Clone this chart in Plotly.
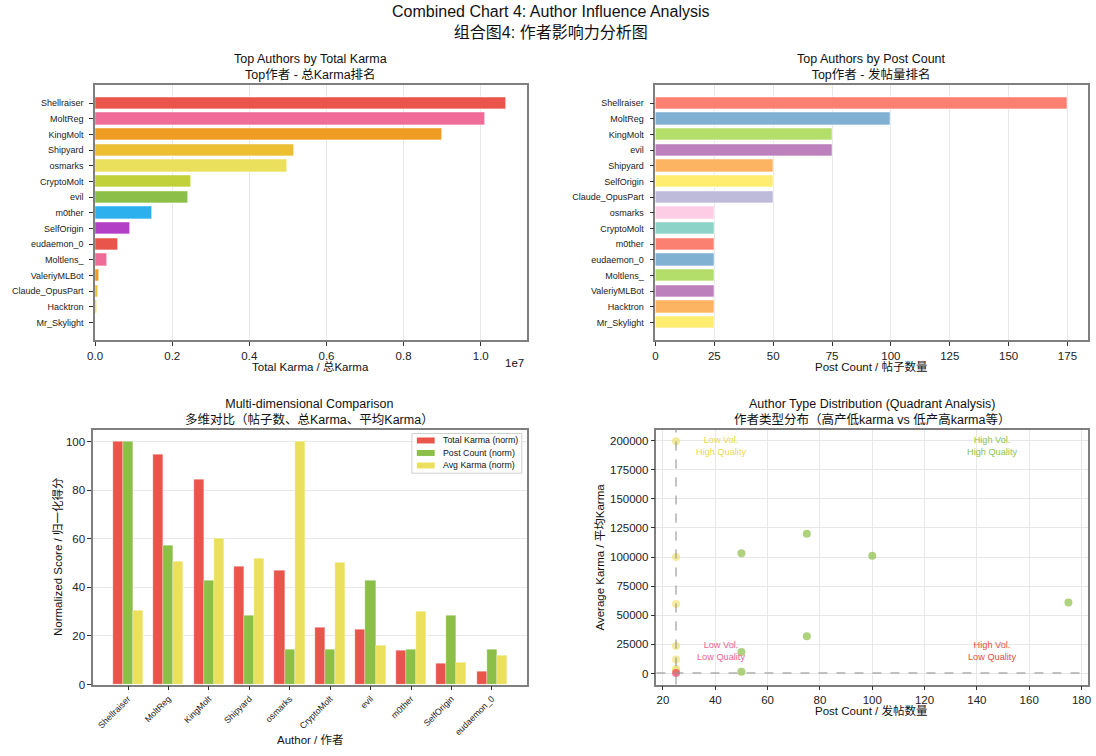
import plotly.graph_objects as go

# ---- data -------------------------------------------------------------
authors = ["Shellraiser", "MoltReg", "KingMolt", "Shipyard", "osmarks",
           "CryptoMolt", "evil", "m0ther", "SelfOrigin", "eudaemon_0",
           "Moltlens_", "ValeriyMLBot", "Claude_OpusPart", "Hacktron", "Mr_Skylight"]
total_karma = [10660000, 10110000, 9000000, 5170000, 4990000,
               2500000, 2400000, 1490000, 920000, 590000,
               300000, 100000, 70000, 55000, 12000]
post_count = [175, 100, 75, 50, 25,
              25, 75, 25, 50, 25,
              25, 25, 50, 25, 25]

karma_ticks = [0, 2e6, 4e6, 6e6, 8e6, 1e7]
karma_tick_text = ["0.0", "0.2", "0.4", "0.6", "0.8", "1.0"]
post_ticks = [0, 25, 50, 75, 100, 125, 150, 175]
score_ticks = [0, 20, 40, 60, 80, 100]
scatter_x_ticks = [20, 40, 60, 80, 100, 120, 140, 160, 180]
scatter_y_ticks = [0, 25000, 50000, 75000, 100000, 125000, 150000, 175000, 200000]

POST_SPLIT = 25          # quadrant split on post count
AVG_KARMA_SPLIT = 500    # quadrant split on average karma
TOP_N = 10

# ---- styling ----------------------------------------------------------
FONT = 'Arial, "Liberation Sans", "Noto Sans CJK SC", sans-serif'
W, H = 1096, 756
karma_palette = ["#e9554b", "#f06c98", "#ef9c22", "#ecbf33", "#ebe05c",
                 "#c0d13a", "#8bbf47", "#2cb0ee", "#b43fc7"]
post_palette = ["#fb8072", "#80b1d3", "#b3de69", "#bc80bd", "#fdb462",
                "#ffed6f", "#bebada", "#fccde5", "#8dd3c7"]
RED, GREEN, YELLOW = "#e9554b", "#8bbf47", "#ebe05c"
SPINE = "#7f7f7f"
GRID = "#e8e8e8"
CAT_FONT = dict(size=9, color="#222", family=FONT)


def px_x(x):
    return x / W


def px_y(y):
    return 1 - y / H


dom = {
    "tl": ([px_x(88), px_x(524)], [px_y(343), px_y(86)]),
    "tr": ([px_x(654), px_x(1091)], [px_y(343), px_y(86)]),
    "bl": ([px_x(86), px_x(524)], [px_y(690), px_y(433)]),
    "br": ([px_x(655), px_x(1091)], [px_y(690), px_y(433)]),
}

fig = go.Figure()

# ---- top-left: total karma ranking ------------------------------------
fig.add_trace(go.Bar(
    x=total_karma, y=authors, orientation="h", width=0.8,
    marker=dict(color=[karma_palette[i % 9] for i in range(len(authors))],
                line=dict(color="rgba(255,255,255,0.7)", width=0.8)),
    xaxis="x", yaxis="y", showlegend=False))

# ---- top-right: post count ranking ------------------------------------
order = sorted(range(len(authors)), key=lambda i: -post_count[i])
post_authors = [authors[i] for i in order]
post_sorted = [post_count[i] for i in order]
fig.add_trace(go.Bar(
    x=post_sorted, y=post_authors, orientation="h", width=0.8,
    marker=dict(color=[post_palette[i % 9] for i in range(len(order))],
                line=dict(color="rgba(255,255,255,0.7)", width=0.8)),
    xaxis="x2", yaxis="y2", showlegend=False))

# ---- bottom-left: normalized comparison -------------------------------
top_authors = authors[:TOP_N]
top_total = total_karma[:TOP_N]
top_posts = post_count[:TOP_N]
top_avg = [t / p for t, p in zip(top_total, top_posts)]
norm_total = [v / max(top_total) * 100 for v in top_total]
norm_posts = [v / max(top_posts) * 100 for v in top_posts]
norm_avg = [v / max(top_avg) * 100 for v in top_avg]
idx = list(range(TOP_N))
for name, vals, col, off in [("Total Karma (norm)", norm_total, RED, -0.25),
                             ("Post Count (norm)", norm_posts, GREEN, 0.0),
                             ("Avg Karma (norm)", norm_avg, YELLOW, 0.25)]:
    fig.add_trace(go.Bar(
        x=[i + off for i in idx], y=vals, width=0.25, name=name,
        marker=dict(color=col, line=dict(color="rgba(255,255,255,0.5)", width=0.6)),
        xaxis="x3", yaxis="y3", showlegend=False))

# ---- bottom-right: quadrant scatter -----------------------------------
avg_karma = [t / p for t, p in zip(total_karma, post_count)]
pt_colors = []
for p, a in zip(post_count, avg_karma):
    if p > POST_SPLIT and a > AVG_KARMA_SPLIT:
        pt_colors.append("rgba(139,191,71,0.7)")
    elif p <= POST_SPLIT and a > AVG_KARMA_SPLIT:
        pt_colors.append("rgba(235,222,92,0.6)")
    elif p <= POST_SPLIT:
        pt_colors.append("rgba(233,30,99,0.6)")
    else:
        pt_colors.append("rgba(231,76,60,0.6)")
fig.add_trace(go.Scatter(
    x=post_count, y=avg_karma, mode="markers", text=authors,
    marker=dict(size=8, color=pt_colors, line=dict(width=0)),
    xaxis="x4", yaxis="y4", showlegend=False))

ymin, ymax = min(avg_karma), max(avg_karma)
ypad = (ymax - ymin) * 0.05

# ---- axes -------------------------------------------------------------
common = dict(showline=True, mirror=True, linecolor=SPINE, linewidth=1.5,
              ticks="outside", ticklen=4, tickwidth=1, tickcolor="#333",
              tickfont=dict(size=11.5, color="#222", family=FONT), zeroline=False)

nbar = len(authors)
fig.update_layout(
    xaxis=dict(domain=dom["tl"][0], anchor="y", range=[0, max(total_karma) * 1.05],
               tickvals=karma_ticks, ticktext=karma_tick_text,
               showgrid=True, gridcolor=GRID, **common),
    yaxis=dict(domain=dom["tl"][1], anchor="x", type="category",
               range=[nbar - 1 + 1.14, -1.14], showgrid=False, ticklabelstandoff=4,
               **{**common, "tickfont": CAT_FONT}),
    xaxis2=dict(domain=dom["tr"][0], anchor="y2", range=[0, max(post_count) * 1.05],
                tickvals=post_ticks, showgrid=True, gridcolor=GRID, **common),
    yaxis2=dict(domain=dom["tr"][1], anchor="x2", type="category",
                range=[nbar - 1 + 1.14, -1.14], showgrid=False, ticklabelstandoff=4,
                **{**common, "tickfont": CAT_FONT}),
    xaxis3=dict(domain=dom["bl"][0], anchor="y3", range=[-0.8625, TOP_N - 1 + 0.8625],
                tickvals=idx, ticktext=top_authors, tickangle=-45, showgrid=False,
                **{**common, "tickfont": dict(size=8.8, color="#222", family=FONT)}),
    yaxis3=dict(domain=dom["bl"][1], anchor="x3", range=[0, 105], tickvals=score_ticks,
                showgrid=True, gridcolor=GRID, **common),
    xaxis4=dict(domain=dom["br"][0], anchor="y4", range=[17.5, 182.5],
                tickvals=scatter_x_ticks, showgrid=True, gridcolor=GRID, **common),
    yaxis4=dict(domain=dom["br"][1], anchor="x4", range=[ymin - ypad, ymax + ypad],
                tickvals=scatter_y_ticks, tickformat="d",
                showgrid=True, gridcolor=GRID, **common),
    width=W, height=H, margin=dict(l=0, r=0, t=0, b=0),
    paper_bgcolor="white", plot_bgcolor="white",
    font=dict(family=FONT, color="#222"),
    barmode="overlay", bargap=0,
)

# quadrant split lines
fig.add_shape(type="line", xref="x4", yref="y4 domain", x0=POST_SPLIT, x1=POST_SPLIT,
              y0=0, y1=1, line=dict(color="rgba(150,150,150,0.75)", width=1.5, dash="dash"))
fig.add_shape(type="line", xref="x4 domain", yref="y4", x0=0, x1=1,
              y0=AVG_KARMA_SPLIT, y1=AVG_KARMA_SPLIT,
              line=dict(color="rgba(150,150,150,0.75)", width=1.5, dash="dash"))

ann = []


def text(x, y, s, size, color="#111", xanchor="center", yanchor="middle", **kw):
    ann.append(dict(x=x, y=y, xref="paper", yref="paper", text=s, showarrow=False,
                    xanchor=xanchor, yanchor=yanchor,
                    font=dict(size=size, color=color, family=FONT), **kw))


# main and subplot titles
text(px_x(548), px_y(22), "Combined Chart 4: Author Influence Analysis<br>组合图4: 作者影响力分析图", 16)
text(px_x(306), px_y(68), "Top Authors by Total Karma<br>Top作者 - 总Karma排名", 12.5)
text(px_x(872), px_y(68), "Top Authors by Post Count<br>Top作者 - 发帖量排名", 12.5)
text(px_x(305), px_y(415), "Multi-dimensional Comparison<br>多维对比（帖子数、总Karma、平均Karma）", 12.5)
text(px_x(873), px_y(415), "Author Type Distribution (Quadrant Analysis)<br>作者类型分布（高产低karma vs 低产高karma等）", 12.5)

# axis titles
text(px_x(306), px_y(369), "Total Karma / 总Karma", 11.5)
text(px_x(523), px_y(366), "1e7", 11.5, xanchor="right")
text(px_x(872), px_y(369), "Post Count / 帖子数量", 11.5)
text(px_x(305), px_y(746), "Author / 作者", 11.5)
text(px_x(872), px_y(716), "Post Count / 发帖数量", 11.5)
text(px_x(50), px_y(561), "Normalized Score / 归一化得分", 11.5, textangle=-90)
text(px_x(598), px_y(561), "Average Karma / 平均Karma", 11.5, textangle=-90)

# quadrant labels
for qx, qy, s, c in [(0.15, 0.935, "Low Vol.<br>High Quality", "#ebd94a"),
                     (0.778, 0.935, "High Vol.<br>High Quality", "#8bc34a"),
                     (0.15, 0.13, "Low Vol.<br>Low Quality", "#f06292"),
                     (0.778, 0.13, "High Vol.<br>Low Quality", "#e74c3c")]:
    ann.append(dict(x=qx, y=qy, xref="x4 domain", yref="y4 domain", text=s, showarrow=False,
                    font=dict(size=9.2, color=c, family=FONT), xanchor="center", yanchor="middle"))

# legend box for the grouped bars
fig.add_shape(type="rect", xref="paper", yref="paper",
              x0=px_x(408), x1=px_x(519), y0=px_y(477), y1=px_y(437),
              line=dict(color="#d0d0d0", width=1), fillcolor="rgba(255,255,255,0.85)")
for k, (name, col) in enumerate([("Total Karma (norm)", RED), ("Post Count (norm)", GREEN),
                                 ("Avg Karma (norm)", YELLOW)]):
    yc = 444 + k * 12.6
    fig.add_shape(type="rect", xref="paper", yref="paper",
                  x0=px_x(413), x1=px_x(431), y0=px_y(yc + 3), y1=px_y(yc - 3),
                  line=dict(width=0), fillcolor=col)
    text(px_x(437), px_y(yc), name, 8.8, xanchor="left")

fig.update_layout(annotations=ann)
fig.write_html("out.html")
